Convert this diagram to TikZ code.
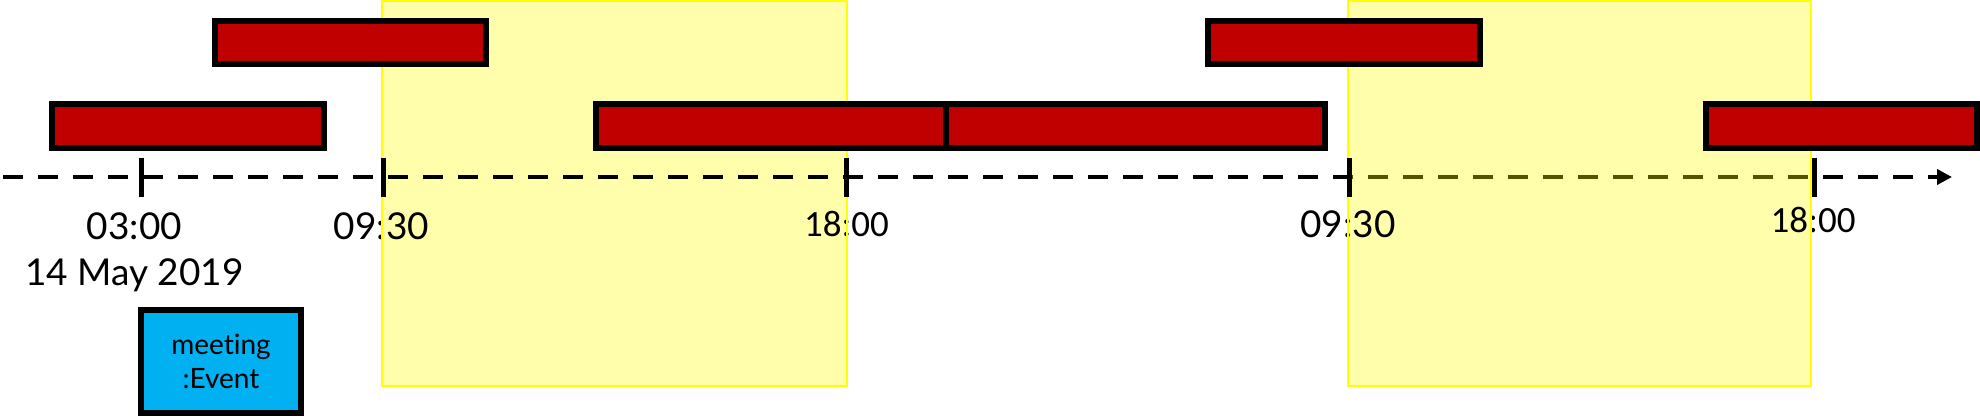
\documentclass[tikz,border=0pt]{standalone}
\usepackage{fontspec}
\setmainfont{Lato}[Ligatures={NoCommon,NoContextual}]
\newfontfamily\calib{Carlito}
\usetikzlibrary{arrows.meta}
\definecolor{barred}{HTML}{C00000}
\definecolor{evblue}{HTML}{00B0F0}
\definecolor{hiyel}{HTML}{FFFF00}
\tikzset{
  redbox/.style={draw=black, line width=6pt, fill=barred, inner sep=0pt, minimum height=43.5pt},
  evbox/.style={draw=black, line width=5.5pt, fill=evblue, inner sep=0pt, align=center,
     font=\fontsize{28}{34}\selectfont, minimum width=159.7pt, minimum height=103pt},
  ticklab/.style={inner sep=0pt, anchor=base, font=\fontsize{37}{46}\selectfont},
  calab/.style={inner sep=0pt, anchor=base, font=\calib\fontsize{37}{46}\selectfont},
  tickmark/.style={line width=5pt},
  axisline/.style={line width=4pt, dash pattern=on 20pt off 15pt, -{Triangle[length=15pt,width=15pt]}},
  workfill/.style={fill=hiyel, fill opacity=0.33},
  workedge/.style={draw=hiyel, line width=2pt}
}
\begin{document}
\begin{tikzpicture}[x=1pt,y=-1pt]
\useasboundingbox (0,0) rectangle (1980,416);
% first working-hours band (behind axis)
\fill[workfill] (382.3,1) rectangle (846.7,386);
% axis
\coordinate (a0) at (3.3,177);
\coordinate (a1) at (1952,177);
\draw[axisline] (a0) -- (a1);
% second working-hours band (over axis)
\fill[workfill] (1347.7,1) rectangle (1811,386);
% labels
\node[ticklab, align=center] (l1) at (134.5,285) {03:00\\14 May 2019};
\node[ticklab] (l2) at (381.5,239) {09:30};
\node[calab] (l3) at (846.5,236) {18:00};
\node[ticklab] (l4) at (1348,237) {09:30};
\node[calab] (l5) at (1813,232) {18:00};
% band edges
\draw[workedge] (382.3,1) rectangle (846.7,386);
\draw[workedge] (1347.7,1) rectangle (1811,386);
% ticks
\coordinate (t1) at (141,177);
\coordinate (t2) at (383,177);
\coordinate (t3) at (846.7,177);
\coordinate (t4) at (1349,177);
\coordinate (t5) at (1814,177);
\foreach \t in {t1,t2,t3,t4,t5}
  \draw[tickmark] ([yshift=19.5pt]\t) -- ([yshift=-19.5pt]\t);
% bars
\node[redbox, minimum width=271pt] (r1) at (350.4,42.5) {};
\node[redbox, minimum width=272pt] (r2) at (1344,42.5) {};
\node[redbox, minimum width=272pt] (r3) at (188,126) {};
\node[redbox, minimum width=349.7pt] (r4) at (771.2,126) {};
\node[redbox, minimum width=379pt] (r5) at (1135.5,126) {};
\node[redbox, minimum width=271.3pt] (r6) at (1841.4,126) {};
% event
\node[evbox] (ev) at (221,361.5) {meeting\\:Event};
\end{tikzpicture}
\end{document}
